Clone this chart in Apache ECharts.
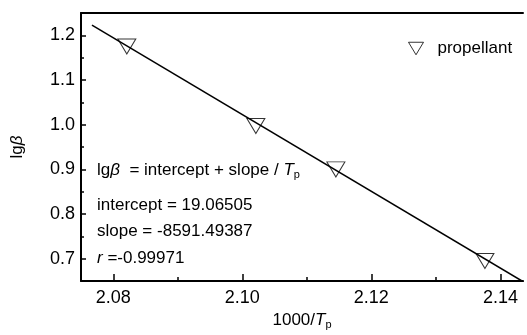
<!DOCTYPE html>
<html>
<head>
<meta charset="utf-8">
<script src="https://cdn.jsdelivr.net/npm/echarts@6/dist/echarts.min.js"></script>
<style>
  html, body { margin: 0; padding: 0; background: #fff; }
  #chart { width: 527px; height: 335px; }
</style>
</head>
<body>
<div id="chart"></div>
<script>
// measured points (1000/Tp, lg beta)
const invTp = [2.0821, 2.1021, 2.1145, 2.1376];
const lgBeta = [1.175, 0.997, 0.900, 0.695];
// fitted line end points
const fitX = [2.0767, 2.1436];
const fitY = [1.2229, 0.6480];
const xTicks = [2.08, 2.10, 2.12, 2.14];
const xMinor = [2.09, 2.11, 2.13];
const yTicks = [0.7, 0.8, 0.9, 1.0, 1.1, 1.2];
const yMinor = [0.65, 0.75, 0.85, 0.95, 1.05, 1.15];

const font = 'Liberation Sans, Arial, sans-serif';
const triangle = 'path://M0,0 L18,0 L9,15 Z';
const xMin = 2.075, xMax = 2.1435, yMin = 0.65, yMax = 1.25;

const chart = echarts.init(document.getElementById('chart'));

const blank = { show: false };
const option = {
  animation: false,
  backgroundColor: '#fff',
  textStyle: { fontFamily: font },
  grid: { left: 81, right: 4, top: 13, bottom: 50 },
  legend: {
    data: ['propellant'],
    left: 403, top: 35,
    icon: triangle,
    itemWidth: 15, itemHeight: 13,
    itemStyle: { color: 'rgba(0,0,0,0)', borderColor: '#000', borderWidth: 1 },
    textStyle: { fontSize: 17, color: '#000', fontFamily: font, padding: [0, 0, 0, 9] }
  },
  xAxis: [{
    type: 'value',
    min: xMin, max: xMax,
    name: '{n|1000/}{i|T}{s|p}',
    nameLocation: 'middle',
    nameGap: 29,
    nameTextStyle: {
      rich: {
        n: { fontSize: 17, fontFamily: font, color: '#000' },
        i: { fontSize: 17, fontFamily: font, fontStyle: 'italic', color: '#000' },
        s: { fontSize: 11, fontFamily: font, color: '#000', verticalAlign: 'bottom', padding: [8, 0, 0, 0] }
      }
    },
    axisLine: { show: true, onZero: false, lineStyle: { color: '#000', width: 2 } },
    axisTick: { show: true, inside: true, length: 7, customValues: xTicks, lineStyle: { color: '#000', width: 1.5 } },
    axisLabel: {
      fontSize: 18, color: '#000', margin: 8,
      customValues: xTicks,
      formatter: v => v.toFixed(2)
    },
    splitLine: blank
  }, {
    type: 'value',
    min: xMin, max: xMax,
    position: 'bottom',
    axisLine: blank,
    axisTick: { show: true, inside: true, length: 4, customValues: xMinor, lineStyle: { color: '#000', width: 1.5 } },
    axisLabel: blank,
    splitLine: blank
  }, {
    type: 'value',
    position: 'top',
    min: xMin, max: xMax,
    axisLine: { show: true, onZero: false, lineStyle: { color: '#000', width: 2 } },
    axisTick: blank,
    axisLabel: blank,
    splitLine: blank
  }],
  yAxis: [{
    type: 'value',
    min: yMin, max: yMax,
    name: '{n|lg}{i|β}',
    nameLocation: 'middle',
    nameGap: 55,
    nameTextStyle: {
      rich: {
        n: { fontSize: 17, fontFamily: font, color: '#000' },
        i: { fontSize: 17, fontFamily: font, fontStyle: 'italic', color: '#000' }
      }
    },
    axisLine: { show: true, onZero: false, lineStyle: { color: '#000', width: 2 } },
    axisTick: { show: true, inside: true, length: 5, customValues: yTicks, lineStyle: { color: '#000', width: 1.5 } },
    axisLabel: {
      fontSize: 18, color: '#000', margin: 6,
      customValues: yTicks,
      formatter: v => v.toFixed(1)
    },
    splitLine: blank
  }, {
    type: 'value',
    min: yMin, max: yMax,
    position: 'left',
    axisLine: blank,
    axisTick: { show: true, inside: true, length: 3, customValues: yMinor, lineStyle: { color: '#000', width: 1.5 } },
    axisLabel: blank,
    splitLine: blank
  }],
  graphic: [
    {
      type: 'text', left: 97, top: 162,
      style: {
        text: '{n|lg}{i|β}{n|  = intercept + slope / }{i|T}{s|p}',
        rich: {
          n: { fontSize: 17, fontFamily: font, fill: '#000' },
          i: { fontSize: 17, fontFamily: font, fontStyle: 'italic', fill: '#000' },
          s: { fontSize: 11, fontFamily: font, fill: '#000', padding: [8, 0, 0, 0] }
        }
      }
    },
    {
      type: 'text', left: 97, top: 197,
      style: { text: 'intercept = 19.06505', fontSize: 17, fontFamily: font, fill: '#000' }
    },
    {
      type: 'text', left: 97, top: 223,
      style: { text: 'slope = -8591.49387', fontSize: 17, fontFamily: font, fill: '#000' }
    },
    {
      type: 'text', left: 97, top: 250,
      style: {
        text: '{i|r}{n| =-0.99971}',
        rich: {
          n: { fontSize: 17, fontFamily: font, fill: '#000' },
          i: { fontSize: 17, fontFamily: font, fontStyle: 'italic', fill: '#000' }
        }
      }
    }
  ],
  series: [
    {
      type: 'line',
      data: fitX.map((x, i) => [x, fitY[i]]),
      showSymbol: false,
      lineStyle: { color: '#000', width: 1.5 },
      silent: true
    },
    {
      name: 'propellant',
      type: 'scatter',
      data: invTp.map((x, i) => [x, lgBeta[i]]),
      symbol: triangle,
      symbolSize: [18, 15],
      itemStyle: { color: 'rgba(0,0,0,0)', borderColor: '#000', borderWidth: 1 }
    }
  ]
};

chart.setOption(option);
</script>
</body>
</html>
